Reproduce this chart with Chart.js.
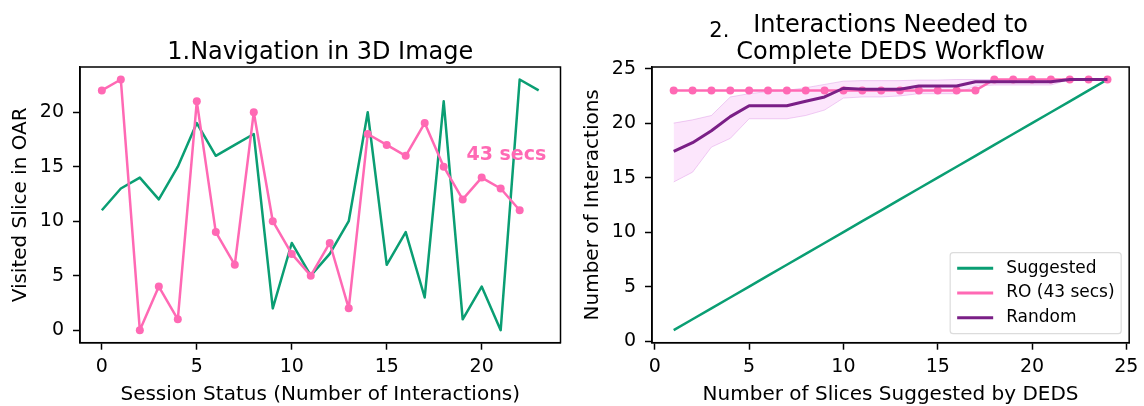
<!DOCTYPE html>
<html>
<head>
<meta charset="utf-8">
<script src="https://cdn.jsdelivr.net/npm/chart.js@4.4.0/dist/chart.umd.min.js"></script>
<style>
	html, body { margin: 0; padding: 0; background: #fff; }
	#wrap { position: relative; width: 1144px; height: 406px; }
	canvas { position: absolute; top: 0; }
	#grafico-nav { left: 0; }
	#grafico-workflow { left: 572px; }
</style>
</head>
<body>
<div id="wrap">
	<canvas id="grafico-nav" width="572" height="406"></canvas>
	<canvas id="grafico-workflow" width="572" height="406"></canvas>
</div>
<script>
// painel 1: navegacao
const navInteracoes = [0, 1, 2, 3, 4, 5, 6, 7, 8, 9, 10, 11, 12, 13, 14, 15, 16, 17, 18, 19, 20, 21, 22, 23];
const navSuggested = [11, 13, 14, 12, 15, 19, 16, 17, 18, 2, 8, 5, 7, 10, 20, 6, 9, 3, 21, 1, 4, 0, 23, 22];
const navRO = [22, 23, 0, 4, 1, 21, 9, 6, 20, 10, 7, 5, 8, 2, 18, 17, 16, 19, 15, 12, 14, 13, 11];
const navTicksX = [0, 5, 10, 15, 20];
const navTicksY = [0, 5, 10, 15, 20];
const navTitulo = ['1.Navigation in 3D Image'];
const anotacaoTexto = '43 secs';
const anotacaoX = 19.2;
const anotacaoY = 15.6;

// painel 2: workflow
const wfSlices = [1, 2, 3, 4, 5, 6, 7, 8, 9, 10, 11, 12, 13, 14, 15, 16, 17, 18, 19, 20, 21, 22, 23, 24];
const wfSuggested = [1, 2, 3, 4, 5, 6, 7, 8, 9, 10, 11, 12, 13, 14, 15, 16, 17, 18, 19, 20, 21, 22, 23, 24];
const wfRO = [23, 23, 23, 23, 23, 23, 23, 23, 23, 23, 23, 23, 23, 23, 23, 23, 23, 24, 24, 24, 24, 24, 24, 24];
const wfRandom = [17.4, 18.2, 19.3, 20.6, 21.6, 21.6, 21.6, 22.0, 22.4, 23.2, 23.1, 23.1, 23.1, 23.4, 23.4, 23.4, 23.8, 23.8, 23.8, 23.8, 23.8, 24, 24, 24];
const wfRandomMin = [14.6, 15.5, 17.8, 18.6, 20.4, 20.4, 20.4, 20.7, 21.2, 22.3, 22.4, 22.4, 22.5, 22.7, 22.7, 22.7, 23.4, 23.5, 23.5, 23.5, 23.5, 24, 24, 24];
const wfRandomMax = [20.0, 20.3, 20.7, 22.4, 22.7, 22.9, 23.0, 23.25, 23.55, 23.85, 23.9, 23.9, 23.9, 23.95, 23.95, 24, 24, 24, 24, 24, 24, 24, 24, 24];
const wfTicks = [0, 5, 10, 15, 20, 25];
const wfNumero = '2.';
const wfTitulo = ['Interactions Needed to', 'Complete DEDS Workflow'];
const wfLegenda = ['Suggested', 'RO (43 secs)', 'Random'];

const fonte = 'DejaVu Sans';
const corVerde = '#0a9e73';
const corRosa = '#ff69b4';
const corRoxo = '#7a1f86';
const corFaixa = 'rgba(238, 130, 238, 0.2)';
const corFaixaBorda = 'rgba(210, 120, 220, 0.35)';

function pontos(xs, ys) {
	return ys.map((y, i) => ({ x: xs[i], y: y }));
}

function configEixo(min, max, ticks, titulo, tamanho, vertical) {
	return {
		type: 'linear',
		min: min,
		max: max,
		afterBuildTicks: (s) => { s.ticks = ticks.map(v => ({ value: v })); },
		afterFit: (s) => {
			if (vertical) s.width = tamanho;
			else s.height = tamanho;
		},
		grid: { drawOnChartArea: false, drawTicks: true, tickLength: 7, tickWidth: 1.5, color: '#000' },
		border: { display: true, color: '#000', width: 1.5 },
		ticks: {
			color: '#000',
			font: { family: fonte, size: 19 },
			padding: vertical ? 9 : 5.5,
			maxRotation: 0,
			autoSkip: false
		},
		title: {
			display: true,
			text: titulo,
			color: '#000',
			font: { family: fonte, size: 20, lineHeight: 1.1 },
			padding: vertical ? { top: 10 } : { top: 0, bottom: 0 }
		}
	};
}

// titulo centrado na area do grafico (o title do chart.js centra no canvas inteiro)
const tituloPlugin = {
	id: 'tituloPainel',
	afterDraw(chart, args, opts) {
		const ctx = chart.ctx;
		const a = chart.chartArea;
		const cx = (a.left + a.right) / 2;
		const linhas = opts.linhas || [];
		const base = a.top - 7.7;
		ctx.save();
		ctx.font = `24px ${fonte}`;
		ctx.fillStyle = '#000';
		ctx.textAlign = 'center';
		ctx.textBaseline = 'alphabetic';
		linhas.forEach((l, i) => {
			ctx.fillText(l, cx, base - (linhas.length - 1 - i) * 27.6);
		});
		if (opts.numero) {
			const larg = ctx.measureText(linhas[linhas.length - 1]).width;
			ctx.font = `21px ${fonte}`;
			ctx.textAlign = 'right';
			ctx.fillText(opts.numero, cx - larg / 2 - 7, base - 22.6);
		}
		ctx.restore();
	}
};

const molduraPlugin = {
	id: 'moldura',
	afterDatasetsDraw(chart) {
		const ctx = chart.ctx;
		const a = chart.chartArea;
		ctx.save();
		ctx.strokeStyle = '#000';
		ctx.lineWidth = 1.5;
		ctx.strokeRect(a.left, a.top, a.right - a.left, a.bottom - a.top);
		ctx.restore();
	}
};

const anotacaoPlugin = {
	id: 'anotacao',
	afterDatasetsDraw(chart) {
		const ctx = chart.ctx;
		ctx.save();
		ctx.font = `bold 19px ${fonte}`;
		ctx.fillStyle = corRosa;
		ctx.textAlign = 'left';
		ctx.textBaseline = 'alphabetic';
		ctx.fillText(anotacaoTexto, chart.scales.x.getPixelForValue(anotacaoX), chart.scales.y.getPixelForValue(anotacaoY));
		ctx.restore();
	}
};

const legendaPlugin = {
	id: 'legendaInterna',
	afterDraw(chart) {
		const ctx = chart.ctx;
		const a = chart.chartArea;
		const cores = [corVerde, corRosa, corRoxo];
		const w = 171, h = 81;
		const x0 = a.right - 8 - w;
		const y0 = a.bottom - 9 - h;
		ctx.save();
		ctx.beginPath();
		ctx.roundRect(x0, y0, w, h, 3);
		ctx.fillStyle = 'rgba(255,255,255,0.8)';
		ctx.fill();
		ctx.strokeStyle = '#dcdcdc';
		ctx.lineWidth = 1.2;
		ctx.stroke();
		ctx.font = `17px ${fonte}`;
		ctx.textAlign = 'left';
		ctx.textBaseline = 'middle';
		wfLegenda.forEach((txt, i) => {
			const y = y0 + 15.6 + i * 24.7;
			ctx.strokeStyle = cores[i];
			ctx.lineWidth = 3;
			ctx.beginPath();
			ctx.moveTo(x0 + 7, y);
			ctx.lineTo(x0 + 43, y);
			ctx.stroke();
			ctx.fillStyle = '#000';
			ctx.fillText(txt, x0 + 56, y);
		});
		ctx.restore();
	}
};

const graficoNav = new Chart(document.getElementById('grafico-nav').getContext('2d'), {
	type: 'line',
	data: {
		datasets: [
			{
				label: 'RO',
				data: pontos(navInteracoes, navRO),
				borderColor: corRosa,
				backgroundColor: corRosa,
				borderWidth: 2.5,
				borderJoinStyle: 'round',
				pointRadius: 4,
				pointBorderWidth: 0,
				pointBackgroundColor: corRosa,
				tension: 0,
				fill: false
			},
			{
				label: 'Suggested',
				data: pontos(navInteracoes, navSuggested),
				borderColor: corVerde,
				borderWidth: 2.5,
				borderJoinStyle: 'round',
				pointRadius: 0,
				tension: 0,
				fill: false
			}
		]
	},
	options: {
		responsive: false,
		animation: false,
		devicePixelRatio: 1,
		layout: { padding: { left: 0, right: 11.5, top: 67, bottom: 0 } },
		scales: {
			x: configEixo(-1.15, 24.15, navTicksX, 'Session Status (Number of Interactions)', 63.3, false),
			y: configEixo(-1.15, 24.15, navTicksY, 'Visited Slice in OAR', 80, true)
		},
		plugins: {
			legend: { display: false },
			tooltip: { enabled: false },
			title: { display: false },
			tituloPainel: { linhas: navTitulo }
		}
	},
	plugins: [molduraPlugin, anotacaoPlugin, tituloPlugin]
});

const graficoWorkflow = new Chart(document.getElementById('grafico-workflow').getContext('2d'), {
	type: 'line',
	data: {
		datasets: [
			{
				label: 'Random',
				data: pontos(wfSlices, wfRandom),
				borderColor: corRoxo,
				borderWidth: 3,
				borderJoinStyle: 'round',
				pointRadius: 0,
				tension: 0,
				fill: false
			},
			{
				label: 'RO (43 secs)',
				data: pontos(wfSlices, wfRO),
				borderColor: corRosa,
				borderWidth: 2.5,
				borderJoinStyle: 'round',
				pointRadius: 4,
				pointBorderWidth: 0,
				pointBackgroundColor: corRosa,
				tension: 0,
				fill: false
			},
			{
				label: 'Suggested',
				data: pontos(wfSlices, wfSuggested),
				borderColor: corVerde,
				borderWidth: 2.5,
				pointRadius: 0,
				tension: 0,
				fill: false
			},
			{
				label: 'faixa-max',
				data: pontos(wfSlices, wfRandomMax),
				borderColor: corFaixaBorda,
				backgroundColor: corFaixa,
				borderWidth: 1,
				pointRadius: 0,
				tension: 0,
				fill: 4
			},
			{
				label: 'faixa-min',
				data: pontos(wfSlices, wfRandomMin),
				borderColor: corFaixaBorda,
				borderWidth: 1,
				pointRadius: 0,
				tension: 0,
				fill: false
			}
		]
	},
	options: {
		responsive: false,
		animation: false,
		devicePixelRatio: 1,
		layout: { padding: { left: 0, right: 11.4, top: 67, bottom: 0 } },
		scales: {
			x: configEixo(-0.15, 25.15, wfTicks, 'Number of Slices Suggested by DEDS', 63.3, false),
			y: configEixo(-0.15, 25.15, wfTicks, 'Number of Interactions', 80, true)
		},
		plugins: {
			legend: { display: false },
			tooltip: { enabled: false },
			title: { display: false },
			tituloPainel: { linhas: wfTitulo, numero: wfNumero }
		}
	},
	plugins: [molduraPlugin, tituloPlugin, legendaPlugin]
});
</script>
</body>
</html>
